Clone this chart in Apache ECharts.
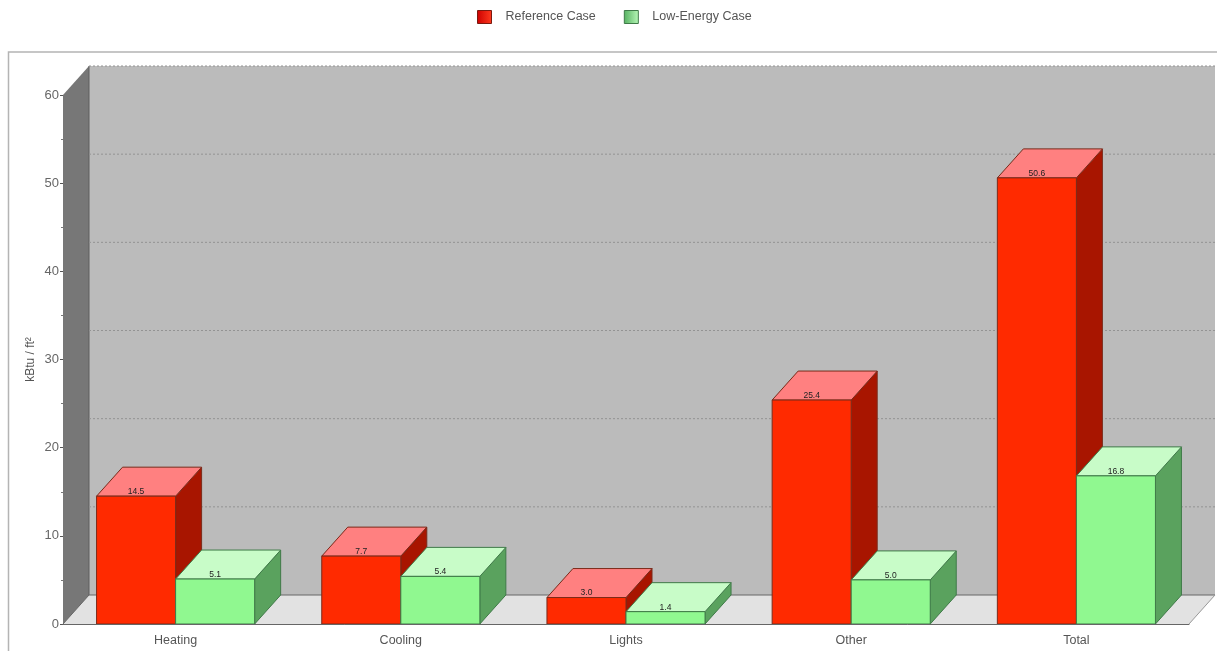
<!DOCTYPE html>
<html><head><meta charset="utf-8">
<style>html,body{margin:0;padding:0;background:#fff;overflow:hidden}#c{width:1217px;height:651px;filter:blur(0.4px)}</style>
<script src="https://cdn.jsdelivr.net/npm/echarts@6/dist/echarts.min.js"></script>
</head><body><div id="c"></div>
<script>
var categories = ['Heating','Cooling','Lights','Other','Total'];
var referenceCase = [14.5, 7.7, 3.0, 25.4, 50.6];
var lowEnergyCase = [5.1, 5.4, 1.4, 5.0, 16.8];
var valueTicks = [0,10,20,30,40,50,60];

var DX = 26, DY = -29, BAR = 0.351;
var chart = echarts.init(document.getElementById('c'), null, {renderer:'canvas'});

function poly(pts, fill, stroke, lw){
  return {type:'polygon', shape:{points:pts}, style:{fill:fill, stroke:stroke||null, lineWidth:lw||0}};
}
function wallsItem(params, api){
  var cs = params.coordSys;
  var x0 = cs.x, x1 = cs.x + cs.width;
  var y0 = api.coord([0, 0])[1], yT = api.coord([0, 60])[1];
  var kids = [
    poly([[x0+DX,yT+DY],[x1+DX,yT+DY],[x1+DX,y0+DY],[x0+DX,y0+DY]], '#bbbbbb'),
    poly([[x0,y0],[x1,y0],[x1+DX,y0+DY],[x0+DX,y0+DY]], '#e2e2e2'),
    poly([[x0,yT],[x0+DX,yT+DY],[x0+DX,y0+DY],[x0,y0]], '#777777'),
    {type:'line', shape:{x1:x0+DX,y1:yT+DY,x2:x0+DX,y2:y0+DY}, style:{stroke:'#5f5f5f',lineWidth:1}},
    {type:'line', shape:{x1:x0+DX,y1:y0+DY,x2:x1+DX,y2:y0+DY}, style:{stroke:'#666666',lineWidth:1}},
    {type:'line', shape:{x1:x0+DX,y1:y0+DY,x2:x0,y2:y0}, style:{stroke:'#666666',lineWidth:1}},
    {type:'line', shape:{x1:x1+DX,y1:y0+DY,x2:x1,y2:y0}, style:{stroke:'#999999',lineWidth:1}}
  ];
  valueTicks.forEach(function(v){
    if(v===0) return;
    var y = api.coord([0, v])[1] + DY;
    kids.push({type:'line', shape:{x1:x0+DX,y1:y,x2:x1+DX,y2:y},
      style:{stroke:'#939393',lineWidth:1,lineDash:[2,2]}});
  });
  return {type:'group', children:kids};
}
function barRenderer(side, front, top, dark, edge){
  return function(params, api){
    var idx = api.value(0), val = api.value(1);
    var base = api.coord([idx, 0]), t = api.coord([idx, val]);
    var w = api.size([1,0])[0] * BAR;
    var xL = side < 0 ? base[0]-w : base[0], xR = xL + w;
    var yB = base[1], yT = t[1];
    return {type:'group', children:[
      poly([[xR,yT],[xR+DX,yT+DY],[xR+DX,yB+DY],[xR,yB]], dark, edge, 1),
      poly([[xL,yT],[xL+DX,yT+DY],[xR+DX,yT+DY],[xR,yT]], top, edge, 1),
      poly([[xL,yT],[xR,yT],[xR,yB],[xL,yB]], front, edge, 1),
      {type:'text', x:(xL+xR)/2, y:yT, style:{text:val.toFixed(1), fill:'#222', font:'8.5px "Liberation Sans"', align:'center', verticalAlign:'bottom'}}
    ]};
  };
}
function rows(arr){ return arr.map(function(v,i){return [i,v];}); }
var legendGrad = function(a,b){ return new echarts.graphic.LinearGradient(0,0,1,0,[{offset:0,color:a},{offset:1,color:b}]); };

chart.setOption({
  animation:false,
  backgroundColor:'#fff',
  textStyle:{fontFamily:'"Liberation Sans", Arial, sans-serif'},
  graphic:[{type:'rect', z:-10, silent:true, shape:{x:8.5,y:52,width:1240,height:640},
    style:{fill:'#fff',stroke:'#b4b4b4',lineWidth:1.5}}],
  legend:{
    top:5, left:472, itemWidth:14, itemHeight:13, itemGap:28,
    textStyle:{color:'#555',fontSize:12.5,padding:[0,0,0,9]},
    data:[
      {name:'Reference Case', icon:'rect', itemStyle:{color:legendGrad('#cc0000','#ff3b1f'),borderColor:'#7a1a10',borderWidth:1}},
      {name:'Low-Energy Case', icon:'rect', itemStyle:{color:legendGrad('#55b060','#b8f8b8'),borderColor:'#3f7a48',borderWidth:1}}
    ]
  },
  grid:{left:63,right:28,top:95,bottom:27,containLabel:false},
  xAxis:{type:'category', data:categories,
    axisLine:{lineStyle:{color:'#666',width:1}}, axisTick:{show:false},
    axisLabel:{color:'#555',fontSize:12.5,margin:10}, z:10},
  yAxis:{type:'value', min:0, max:60, interval:10,
    name:'kBtu / ft²', nameLocation:'middle', nameGap:26, nameMoveOverlap:false, nameRotate:90,
    nameTextStyle:{color:'#555',fontSize:12},
    axisLine:{show:false},
    axisTick:{show:true,length:3,lineStyle:{color:'#555'}},
    minorTick:{show:true,splitNumber:2,length:2,lineStyle:{color:'#777'}},
    axisLabel:{color:'#666',fontSize:13,margin:4},
    splitLine:{show:false}},
  series:[
    {type:'custom', silent:true, data:[[0,0]], renderItem:wallsItem, clip:false, z:1, legendHoverLink:false, tooltip:{show:false}},
    {type:'custom', name:'Reference Case', data:rows(referenceCase), encode:{x:0,y:1}, clip:false, z:2,
      itemStyle:{color:'#ff2a00'}, renderItem:barRenderer(-1,'#ff2a00','#ff8080','#a81500','#7a2a1a')},
    {type:'custom', name:'Low-Energy Case', data:rows(lowEnergyCase), encode:{x:0,y:1}, clip:false, z:3,
      itemStyle:{color:'#90f890'}, renderItem:barRenderer(1,'#90f890','#c8fcc8','#5aa25e','#3f7a48')}
  ]
});
</script></body></html>
